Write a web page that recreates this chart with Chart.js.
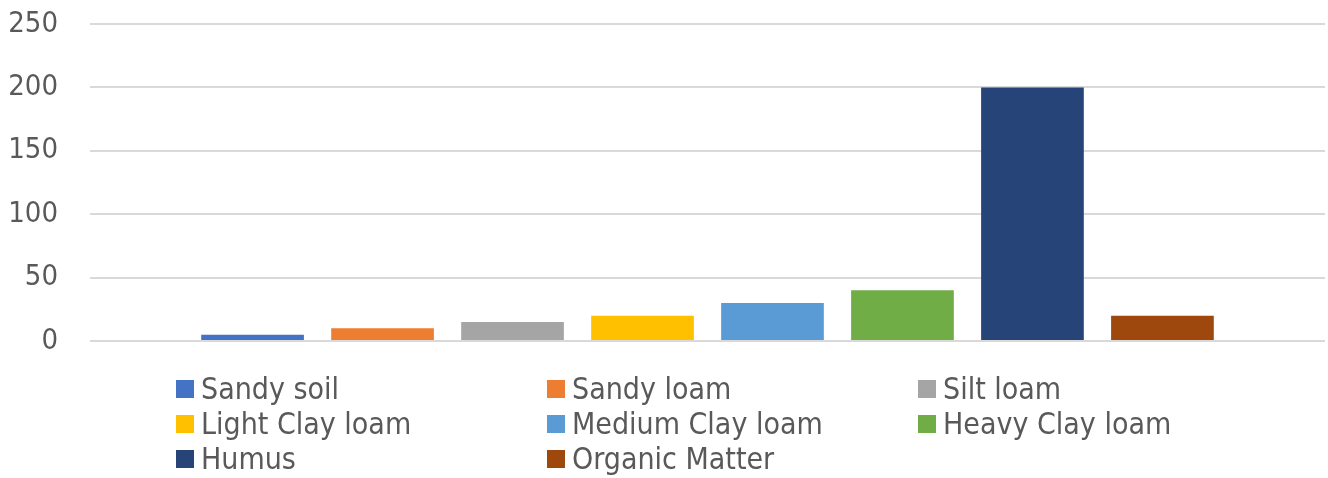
<!DOCTYPE html>
<html>
<head>
<meta charset="utf-8">
<script src="https://cdn.jsdelivr.net/npm/chart.js@4"></script>
<style>
  html, body { margin: 0; padding: 0; background: #fff; }
  #wrap { position: relative; width: 1328px; height: 478px; }
  #legend {
    position: absolute; left: 176px; top: 371px;
    display: grid; grid-template-columns: 371px 371px 371px;
    font-family: "DejaVu Sans Condensed", "DejaVu Sans", sans-serif;
    font-size: 30px; color: #595959; line-height: 35px;
  }
  #legend span.item { display: flex; align-items: center; white-space: nowrap; }
  #legend span.box { display: inline-block; width: 18px; height: 18px; margin-right: 7px; }
</style>
</head>
<body>
<div id="wrap">
  <canvas id="chart" width="1328" height="478"></canvas>
  <div id="legend"></div>
</div>
<script>
var seriesNames = ["Sandy soil", "Sandy loam", "Silt loam", "Light Clay loam",
                   "Medium Clay loam", "Heavy Clay loam", "Humus", "Organic Matter"];
var seriesValues = [5, 10, 15, 20, 30, 40, 200, 20];
var seriesColors = ["#4472C4", "#ED7D31", "#A5A5A5", "#FFC000",
                    "#5B9BD5", "#70AD47", "#264478", "#9E480E"];
var categories = [""];
var yTicks = [0, 50, 100, 150, 200, 250];

var fontFamily = '"DejaVu Sans Condensed", "DejaVu Sans", sans-serif';

var datasets = seriesNames.map(function(name, i) {
    return {
        label: name,
        data: [seriesValues[i]],
        backgroundColor: seriesColors[i],
        borderWidth: 0,
        categoryPercentage: 0.842,
        barPercentage: 0.79
    };
});

var ctx = document.getElementById("chart").getContext("2d");
var chart = new Chart(ctx, {
    type: 'bar',
    data: { labels: categories, datasets: datasets },
    options: {
        responsive: false,
        animation: false,
        layout: { padding: { top: 24, right: 3, bottom: 137, left: 0 } },
        plugins: { legend: { display: false }, tooltip: { enabled: false } },
        scales: {
            x: { display: false },
            y: {
                min: 0, max: 250,
                afterFit: function(s) {
                    s.width = 90;
                    s.paddingTop = 0;
                    s.paddingBottom = 0;
                },
                afterBuildTicks: function(s) { s.ticks = yTicks.map(function(v) { return { value: v }; }); },
                border: { display: false },
                grid: { color: "#d9d9d9", lineWidth: 2, drawTicks: false },
                ticks: { color: "#595959", font: { family: fontFamily, size: 29 }, padding: 32 }
            }
        }
    }
});

// legend laid out in three columns, like the original
var legend = document.getElementById("legend");
chart.data.datasets.forEach(function(ds) {
    var item = document.createElement("span");
    item.className = "item";
    var box = document.createElement("span");
    box.className = "box";
    box.style.background = ds.backgroundColor;
    item.appendChild(box);
    item.appendChild(document.createTextNode(ds.label));
    legend.appendChild(item);
});
</script>
</body>
</html>
